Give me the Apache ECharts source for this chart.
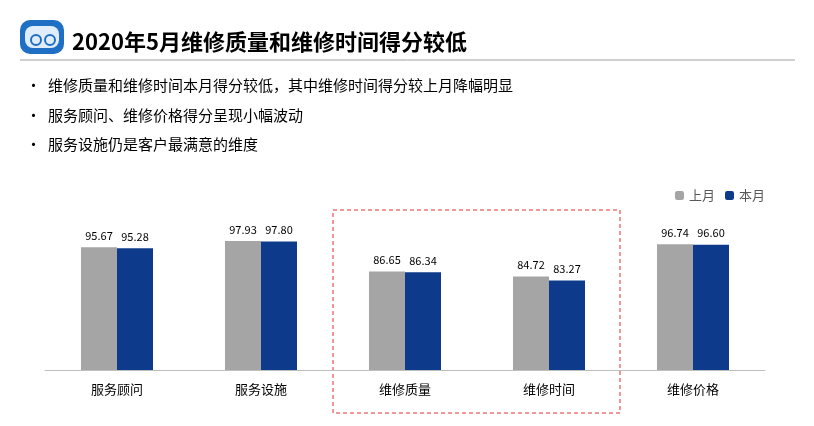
<!DOCTYPE html><html><head><meta charset="utf-8"><script src="https://cdn.jsdelivr.net/npm/echarts@6/dist/echarts.min.js"></script>
<style>body{margin:0}#c{width:814px;height:426px}</style></head><body><div id="c"></div><script>
const categories=['服务顾问','服务设施','维修质量','维修时间','维修价格'];
const lastMonth=[95.67,97.93,86.65,84.72,96.74];
const thisMonth=[95.28,97.80,86.34,83.27,96.60];
const seriesNames=['上月','本月'];
const title='2020年5月维修质量和维修时间得分较低';
const bullets=['维修质量和维修时间本月得分较低，其中维修时间得分较上月降幅明显','服务顾问、维修价格得分呈现小幅波动','服务设施仍是客户最满意的维度'];
const F='"Noto Sans CJK SC",sans-serif';
const g=[
{type:'rect',shape:{x:20,y:20,width:44,height:34,r:10},style:{fill:'#1f6fc4'}},
{type:'rect',shape:{x:25,y:26,width:34,height:22,r:8},style:{fill:'#dfeefa'}},
{type:'circle',shape:{cx:36,cy:40,r:5},style:{fill:'none',stroke:'#1f6fc4',lineWidth:2}},
{type:'circle',shape:{cx:50,cy:40,r:5},style:{fill:'none',stroke:'#1f6fc4',lineWidth:2}},
{type:'text',left:72,top:31,style:{text:title,font:'bold 22px '+F,fill:'#000'}},
{type:'line',shape:{x1:20,y1:60,x2:795,y2:60},style:{stroke:'#a0a0a0',lineWidth:1}},
{type:'rect',shape:{x:333,y:210,width:287,height:203},style:{fill:'none',stroke:'#e03030',lineWidth:1,lineDash:[4,3]}}
];
bullets.forEach((b,i)=>{g.push({type:'text',left:26,top:78+i*29.5,style:{text:'•',font:'15px '+F,fill:'#000'}});
g.push({type:'text',left:48,top:78+i*29.5,style:{text:b,font:'15px '+F,fill:'#000'}});});
const lbl={show:true,position:'top',fontSize:11,color:'#000',fontFamily:F,distance:6,formatter:p=>p.value.toFixed(2)};
echarts.init(document.getElementById('c')).setOption({animation:false,
legend:{right:44,top:184,itemWidth:9,itemHeight:9,itemGap:10,textStyle:{fontSize:13,color:'#595959',fontFamily:F},data:seriesNames},
grid:{left:45,right:49,top:235.5,bottom:56},
xAxis:{type:'category',data:categories,axisTick:{show:false},axisLine:{lineStyle:{color:'#bfbfbf'}},axisLabel:{fontSize:13,color:'#000',fontFamily:F,margin:13}},
yAxis:{type:'value',min:50,max:100,show:false,splitLine:{show:false}},
series:[{name:seriesNames[0],type:'bar',data:lastMonth,barWidth:36,barGap:'0%',itemStyle:{color:'#a5a5a5'},label:lbl},
{name:seriesNames[1],type:'bar',data:thisMonth,barWidth:36,itemStyle:{color:'#0d3a8a'},label:lbl}],
graphic:g});
</script></body></html>
